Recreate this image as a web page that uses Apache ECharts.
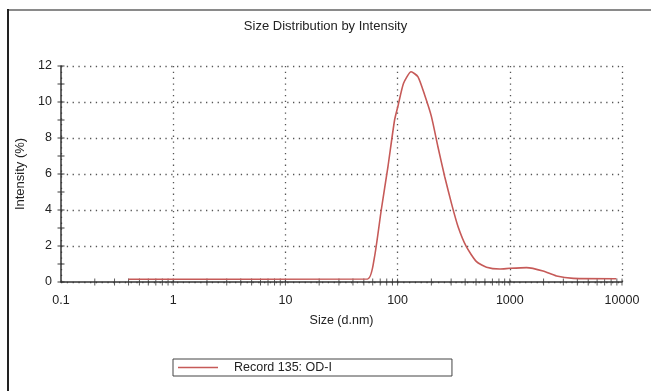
<!DOCTYPE html>
<html>
<head>
<meta charset="utf-8">
<script src="https://cdn.jsdelivr.net/npm/echarts@6/dist/echarts.min.js"></script>
<style>
  html, body { margin: 0; padding: 0; background: #fff; }
  #chart { width: 651px; height: 391px; }
</style>
</head>
<body>
<div id="chart"></div>
<script>
// size (d.nm) and intensity (%)
const sizes = [0.4, 54, 62, 71.5, 82, 94, 101, 113, 132, 152, 174, 200, 229, 263, 302, 346, 410, 505, 620, 813, 1000, 1410, 1980, 2610, 3680, 8900];
const intensity = [0.15, 0.17, 1.33, 4.0, 6.4, 9.0, 9.8, 11.04, 11.68, 11.4, 10.4, 9.2, 7.5, 5.85, 4.37, 3.07, 1.96, 1.13, 0.82, 0.72, 0.76, 0.8, 0.61, 0.33, 0.2, 0.18];

const xTickLabels = ["0.1", "1", "10", "100", "1000", "10000"];
const yTickValues = [0, 1, 2, 3, 4, 5, 6, 7, 8, 9, 10, 11, 12];
const xMinorTicks = [
  0.2, 0.3, 0.4, 0.5, 0.6, 0.7, 0.8, 0.9, 1,
  2, 3, 4, 5, 6, 7, 8, 9, 10,
  20, 30, 40, 50, 60, 70, 80, 90, 100,
  200, 300, 400, 500, 600, 700, 800, 900, 1000,
  2000, 3000, 4000, 5000, 6000, 7000, 8000, 9000, 10000
];

const font = "Liberation Sans, Arial, sans-serif";
const axisColor = "#333";
const lineColor = "#c65a58";
const gridDots = { color: "#555", width: 1.3, type: [1.3, 4.5] };

const chart = echarts.init(document.getElementById("chart"), null, { renderer: "canvas" });

chart.setOption({
  backgroundColor: "#fff",
  animation: false,
  title: {
    text: "Size Distribution by Intensity",
    left: "center",
    top: 20,
    padding: 0,
    textStyle: { fontFamily: font, fontSize: 13, fontWeight: "normal", color: "#222" },
  },
  legend: {
    left: 173,
    top: 359,
    data: [{ name: "Record 135: OD-I", icon: "rect" }],
    itemWidth: 40,
    itemHeight: 1.6,
    padding: [2, 120, 2, 5],
    borderColor: "#444",
    borderWidth: 1,
    formatter: (name) => "{t|" + name + "}",
    textStyle: {
      fontFamily: font,
      fontSize: 12.5,
      color: "#222",
      rich: { t: { fontFamily: font, fontSize: 12.5, color: "#222", padding: [0, 0, 0, 11] } },
    },
  },
  grid: { left: 61, right: 29, top: 66, bottom: 109, containLabel: false },
  xAxis: {
    type: "log",
    logBase: 10,
    min: 0.1,
    max: 10000,
    name: "Size (d.nm)",
    nameLocation: "middle",
    nameGap: 32,
    nameTextStyle: { fontFamily: font, fontSize: 12.5, color: "#222" },
    axisLine: { onZero: false, lineStyle: { color: axisColor, width: 1.5 } },
    axisTick: { show: false },
    axisLabel: {
      fontFamily: font,
      fontSize: 12.5,
      color: "#222",
      margin: 12,
      formatter: (v) => xTickLabels[Math.round(Math.log10(v)) + 1],
    },
    splitLine: { show: true, lineStyle: gridDots },
  },
  yAxis: {
    type: "value",
    min: 0,
    max: 12,
    interval: 2,
    name: "Intensity (%)",
    nameLocation: "middle",
    nameRotate: 90,
    nameGap: 26,
    nameTextStyle: { fontFamily: font, fontSize: 13, color: "#222" },
    axisLine: { show: true, lineStyle: { color: axisColor, width: 1.5 } },
    axisTick: { show: false },
    axisLabel: { fontFamily: font, fontSize: 12.5, color: "#222", margin: 9 },
    splitLine: { show: true, lineStyle: gridDots },
  },
  graphic: [
    { type: "rect", left: 8, top: 9, shape: { width: 643, height: 2 }, style: { fill: "#8a8a8a" }, silent: true },
    { type: "rect", left: 7, top: 9, shape: { width: 2, height: 382 }, style: { fill: "#222" }, silent: true },
  ],
  series: [
    {
      name: "x ticks",
      type: "scatter",
      silent: true,
      clip: false,
      symbol: "rect",
      symbolSize: [1, 7],
      itemStyle: { color: axisColor },
      data: xMinorTicks.map((s) => [s, 0]),
      z: 3,
    },
    {
      name: "y ticks",
      type: "scatter",
      silent: true,
      clip: false,
      symbol: "rect",
      symbolSize: [7, 1.2],
      itemStyle: { color: axisColor },
      data: yTickValues.map((v) => [0.1, v]),
      z: 3,
    },
    {
      name: "Record 135: OD-I",
      type: "line",
      data: sizes.map((s, i) => [s, intensity[i]]),
      showSymbol: false,
      symbol: "none",
      smooth: 0.2,
      lineStyle: { color: lineColor, width: 1.6 },
      itemStyle: { color: lineColor },
      z: 4,
    },
  ],
});
</script>
</body>
</html>
